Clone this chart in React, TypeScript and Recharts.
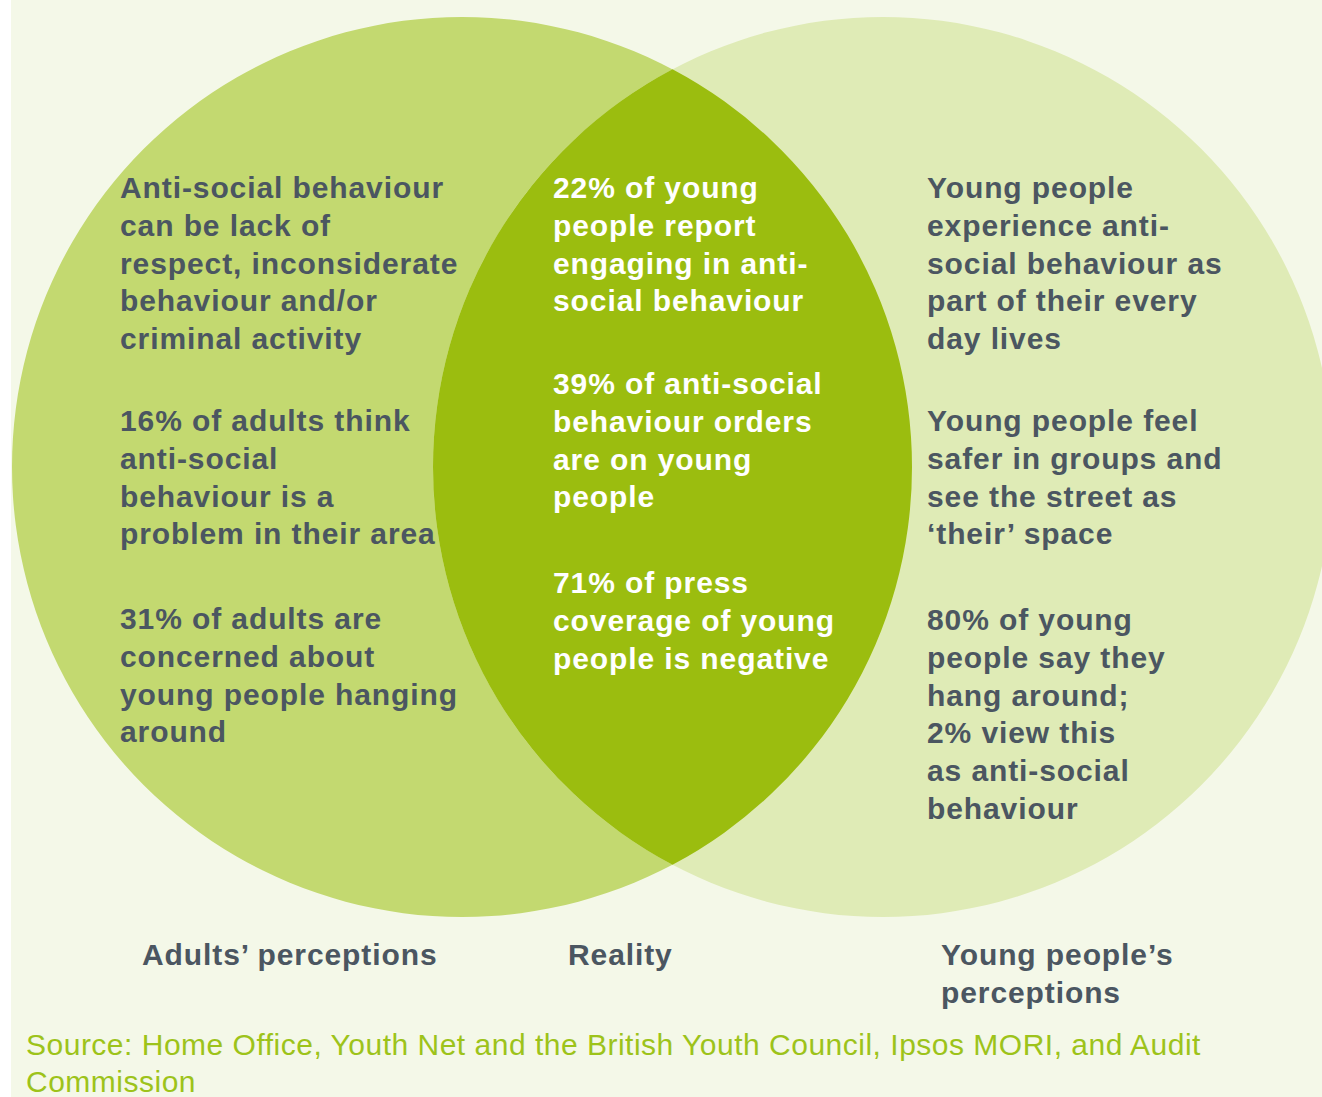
import React from 'react';
import { PieChart, Pie, Cell } from 'recharts';

// sets of the venn diagram
const setNames = ['Adults’ perceptions', 'Young people’s perceptions'];
const setColors = ['#c3d970', '#dfebb6'];
const overlapName = 'Reality';
const overlapColor = '#9bbd0f';

// statements in each region, one array of lines per block
const adultBlocks = [
  ['Anti-social behaviour', 'can be lack of', 'respect, inconsiderate', 'behaviour and/or', 'criminal activity'],
  ['16% of adults think', 'anti-social', 'behaviour is a', 'problem in their area'],
  ['31% of adults are', 'concerned about', 'young people hanging', 'around'],
];
const realityBlocks = [
  ['22% of young', 'people report', 'engaging in anti-', 'social behaviour'],
  ['39% of anti-social', 'behaviour orders', 'are on young', 'people'],
  ['71% of press', 'coverage of young', 'people is negative'],
];
const youngBlocks = [
  ['Young people', 'experience anti-', 'social behaviour as', 'part of their every', 'day lives'],
  ['Young people feel', 'safer in groups and', 'see the street as', '‘their’ space'],
  ['80% of young', 'people say they', 'hang around;', '2% view this', 'as anti-social', 'behaviour'],
];
const captionLines = [['Adults’ perceptions'], ['Reality'], ['Young people’s', 'perceptions']];
const sourceLines = ['Source: Home Office, Youth Net and the British Youth Council, Ipsos MORI, and Audit', 'Commission'];

if (typeof document !== 'undefined') document.body.style.margin = '0';

const W = 1322;
const H = 1097;
const R = 450;
const CY = 467;
const LEFT_CX = 462;
const RIGHT_CX = 883;
const LINE = 37.8;
const TEXT = '#4b5661';
const FONT = '"Liberation Sans", Arial, sans-serif';

// lens between both circles, built from the same circle geometry
const lensPath = () => {
  const d = RIGHT_CX - LEFT_CX;
  const h = Math.sqrt(R * R - (d / 2) * (d / 2));
  const x = LEFT_CX + d / 2;
  return `M ${x} ${CY - h} A ${R} ${R} 0 0 1 ${x} ${CY + h} A ${R} ${R} 0 0 1 ${x} ${CY - h} Z`;
};

const Block = ({ lines, x, y, fill }: { lines: string[]; x: number; y: number; fill: string }) => (
  <text x={x} y={y} fill={fill} fontFamily={FONT} fontWeight="bold" fontSize={30} letterSpacing={0.9}>
    {lines.map((l, i) => (
      <tspan key={i} x={x} y={y + i * LINE}>{l}</tspan>
    ))}
  </text>
);

const adultTop = [198, 431, 629];
const realityTop = [198, 394, 593];
const youngTop = [198, 431, 630];
const captionX = [142, 568, 941];

// drawn as the label of the second set, so it sits above both circles
const renderOverlay = () => (
  <g>
    <path d={lensPath()} fill={overlapColor} name={overlapName} />
    {adultBlocks.map((b, i) => (
      <Block key={'a' + i} lines={b} x={120} y={adultTop[i]} fill={TEXT} />
    ))}
    {realityBlocks.map((b, i) => (
      <Block key={'r' + i} lines={b} x={553} y={realityTop[i]} fill="#ffffff" />
    ))}
    {youngBlocks.map((b, i) => (
      <Block key={'y' + i} lines={b} x={927} y={youngTop[i]} fill={TEXT} />
    ))}
    {captionLines.map((b, i) => (
      <Block key={'c' + i} lines={b} x={captionX[i]} y={965} fill={TEXT} />
    ))}
    <text x={26} y={1055} fill="#9dc31a" fontFamily={FONT} fontSize={30} letterSpacing={0.5}>
      {sourceLines.map((l, i) => (
        <tspan key={i} x={26} y={1055 + i * 37}>{l}</tspan>
      ))}
    </text>
  </g>
);

export default function App() {
  return (
    <div style={{ width: W, height: H, background: 'linear-gradient(to right, #ffffff 11px, #f4f8e8 11px)' }}>
      <PieChart width={W} height={H} margin={{ top: 0, right: 0, bottom: 0, left: 0 }}>
        <Pie
          data={[{ name: setNames[0], value: 1 }]}
          dataKey="value"
          cx={LEFT_CX}
          cy={CY}
          outerRadius={R}
          innerRadius={0}
          startAngle={90}
          endAngle={450}
          stroke="none"
          isAnimationActive={false}
        >
          <Cell fill={setColors[0]} />
        </Pie>
        <Pie
          data={[{ name: setNames[1], value: 1 }]}
          dataKey="value"
          cx={RIGHT_CX}
          cy={CY}
          outerRadius={R}
          innerRadius={0}
          startAngle={90}
          endAngle={450}
          stroke="none"
          label={renderOverlay}
          labelLine={false}
          isAnimationActive={false}
        >
          <Cell fill={setColors[1]} />
        </Pie>
      </PieChart>
    </div>
  );
}
